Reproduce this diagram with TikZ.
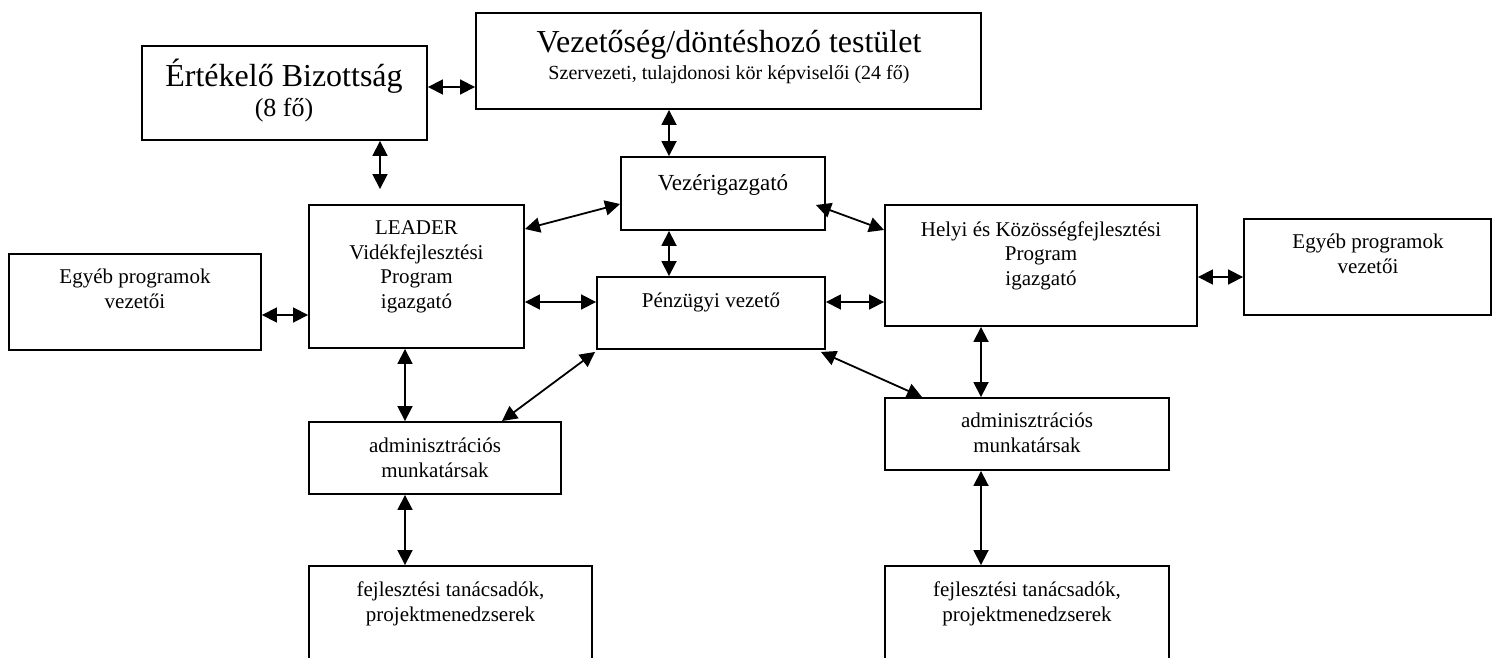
\documentclass[tikz,border=0pt]{standalone}
\usepackage{fontspec}
\setmainfont{Liberation Serif}
\usetikzlibrary{arrows.meta,calc}
\begin{document}
\begin{tikzpicture}[x=1pt,y=-1pt,
 box/.style={draw, line width=1.9pt, inner sep=0pt, rectangle},
 lbl/.style={anchor=base, align=center, inner sep=0pt, font=\fontsize{21}{24.5}\selectfont},
 conn/.style={line width=1.8pt, {Triangle[length=15pt,width=15pt]}-{Triangle[length=15pt,width=15pt]}}]
\useasboundingbox (0,0) rectangle (1493,658);
\clip (0,0) rectangle (1493,658);
% boxes
\node[box, minimum width=285pt, minimum height=94pt] (ert) at (284.5,93) {};
\node[box, minimum width=505pt, minimum height=96pt] (vez) at (728.5,61) {};
\node[box, minimum width=204pt, minimum height=73pt] (vzi) at (723,193.5) {};
\node[box, minimum width=215pt, minimum height=143pt] (lead) at (416.5,276.5) {};
\node[box, minimum width=252pt, minimum height=96pt] (egyL) at (135,302) {};
\node[box, minimum width=228pt, minimum height=72pt] (pen) at (711,313) {};
\node[box, minimum width=312pt, minimum height=121pt] (helyi) at (1041,265.5) {};
\node[box, minimum width=247pt, minimum height=96pt] (egyR) at (1367.5,267) {};
\node[box, minimum width=252pt, minimum height=72pt] (admL) at (435,458) {};
\node[box, minimum width=283pt, minimum height=114pt] (fejL) at (450.5,623) {};
\node[box, minimum width=284pt, minimum height=72pt] (admR) at (1027,434) {};
\node[box, minimum width=284pt, minimum height=114pt] (fejR) at (1027,623) {};
% texts (base = baseline of the last line)
\node[lbl, font=\fontsize{32}{38}\selectfont] (ertA) at (284,87) {Értékelő Bizottság};
\node[lbl, font=\fontsize{26}{31}\selectfont] (ertB) at (284,117) {(8 fő)};
\node[lbl, font=\fontsize{32}{38}\selectfont] (vezA) at (729,53) {Vezetőség/döntéshozó testület};
\node[lbl, font=\fontsize{20}{24}\selectfont] (vezB) at (729,80) {Szervezeti, tulajdonosi kör képviselői (24 fő)};
\node[lbl, font=\fontsize{23}{27}\selectfont] (vziT) at (723,190) {Vezérigazgató};
\node[lbl] (leadT) at (416.5,308) {LEADER\\Vidékfejlesztési\\Program\\igazgató};
\node[lbl] (egyLT) at (135,308) {Egyéb programok\\vezetői};
\node[lbl] (penT) at (711,307) {Pénzügyi vezető};
\node[lbl] (helyiT) at (1041,285) {Helyi és Közösségfejlesztési\\Program\\igazgató};
\node[lbl] (egyRT) at (1368,273) {Egyéb programok\\vezetői};
\node[lbl] (admLT) at (435,477) {adminisztrációs\\munkatársak};
\node[lbl] (fejLT) at (450.5,621) {fejlesztési tanácsadók,\\projektmenedzserek};
\node[lbl] (admRT) at (1027,452) {adminisztrációs\\munkatársak};
\node[lbl] (fejRT) at (1027,621) {fejlesztési tanácsadók,\\projektmenedzserek};
% connectors
\coordinate (ertEnd) at ($(lead.north)+(-36.5,-15)$);
\draw[conn] ($(ert.east)+(0,-6)$) -- ($(vez.west)+(0,26)$);
\draw[conn] ($(ert.south)+(95.5,0)$) -- (ertEnd);
\draw[conn] ($(vez.south)+(-59.5,0)$) -- ($(vzi.north)+(-54,0)$);
\draw[conn] ($(lead.east)+(0,-47.5)$) -- ($(vzi.west)+(0,10.5)$);
\draw[conn] ($(vzi.east)+(-10,11.5)$) -- ($(helyi.west)+(0,-35.5)$);
\draw[conn] ($(vzi.south)+(-54,0)$) -- ($(pen.north)+(-42,0)$);
\draw[conn] ($(egyL.east)+(0,13)$) -- ($(lead.west)+(0,38.5)$);
\draw[conn] ($(lead.east)+(0,25.5)$) -- ($(pen.west)+(0,-11)$);
\draw[conn] ($(pen.east)+(0,-11)$) -- ($(helyi.west)+(0,36.5)$);
\draw[conn] ($(helyi.east)+(0,11.5)$) -- ($(egyR.west)+(0,10)$);
\draw[conn] ($(lead.south)+(-11.5,0)$) -- ($(admL.north)+(-30,0)$);
\draw[conn] ($(pen.south west)+(-1,2)$) -- ($(admL.north)+(67,0)$);
\draw[conn] ($(admL.south)+(-30,0)$) -- ($(fejL.north)+(-45.5,0)$);
\draw[conn] ($(pen.south east)+(-5,2)$) -- ($(admR.north)+(-105,0)$);
\draw[conn] ($(helyi.south)+(-60,0)$) -- ($(admR.north)+(-46,0)$);
\draw[conn] ($(admR.south)+(-46,0)$) -- ($(fejR.north)+(-46,0)$);
\end{tikzpicture}
\end{document}
